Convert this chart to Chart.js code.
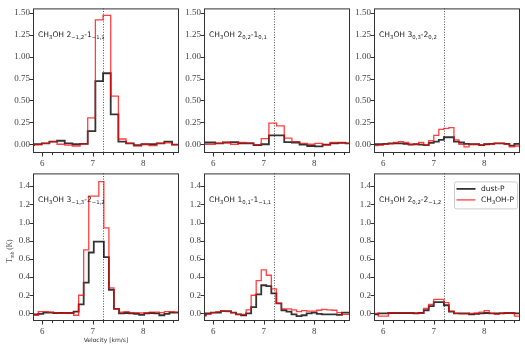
<!DOCTYPE html>
<html>
<head>
<meta charset="utf-8">
<script src="https://cdn.jsdelivr.net/npm/chart.js@4"></script>
<style>
  html, body { margin: 0; padding: 0; background: #fff; }
  #wrap { position: relative; width: 525px; height: 350px; overflow: hidden; }
  #wrap canvas { position: absolute; }
</style>
</head>
<body>
<div id="wrap"></div>
<script>
// channel velocities (km/s) and spectra (K) for each transition
const vel1 = [5.760, 5.912, 6.064, 6.216, 6.368, 6.520, 6.672, 6.824, 6.976, 7.128, 7.280, 7.432, 7.584, 7.736, 7.888, 8.040, 8.192, 8.344, 8.496, 8.648, 8.800];
const dust1 = [-0.01, 0.0, 0.01, 0.03, 0.04, 0.01, 0.0, 0.005, 0.15, 0.72, 0.81, 0.34, 0.03, 0.01, -0.01, 0.0, 0.0, 0.01, 0.03, -0.005, -0.005];
const meth1 = [-0.01, -0.005, 0.01, 0.03, 0.0, -0.01, -0.02, 0.005, 0.30, 1.42, 1.47, 0.55, 0.06, 0.01, -0.02, 0.0, -0.015, 0.01, 0.015, -0.005, -0.005];

const vel2 = [5.810, 5.962, 6.114, 6.266, 6.418, 6.570, 6.722, 6.874, 7.026, 7.178, 7.330, 7.482, 7.634, 7.786, 7.938, 8.090, 8.242, 8.394, 8.546, 8.698, 8.850];
const dust2 = [0.02, 0.02, 0.01, 0.02, 0.025, 0.01, 0.01, -0.01, 0.0, 0.10, 0.10, 0.025, 0.02, -0.005, -0.02, -0.025, -0.005, 0.01, 0.015, 0.01, 0.01];
const meth2 = [0.0, 0.0, 0.01, 0.02, 0.0, 0.02, 0.015, -0.005, 0.065, 0.24, 0.21, 0.07, 0.03, 0.01, 0.0, 0.01, -0.01, 0.02, 0.02, 0.01, 0.01];

const vel3 = [5.75, 5.85, 5.95, 6.05, 6.15, 6.25, 6.35, 6.45, 6.55, 6.65, 6.75, 6.85, 6.95, 7.05, 7.15, 7.25, 7.35, 7.45, 7.55, 7.65, 7.75, 7.85, 7.95, 8.05, 8.15, 8.25, 8.35, 8.45, 8.55, 8.65, 8.75];
const dust3 = [0.0, 0.0, 0.0, 0.005, 0.01, 0.01, 0.01, 0.005, -0.005, 0.0, -0.005, -0.01, 0.015, 0.03, 0.05, 0.08, 0.08, 0.03, 0.02, 0.005, 0.0, 0.0, -0.01, 0.0, 0.005, 0.01, 0.01, 0.005, -0.015, 0.005, 0.005];
const meth3 = [-0.015, -0.015, -0.01, 0.0, 0.005, 0.02, 0.03, 0.02, 0.0, 0.0, 0.02, -0.01, 0.04, 0.10, 0.17, 0.18, 0.19, 0.05, 0.0, -0.03, 0.0, 0.0, -0.01, 0.005, 0.0, 0.01, 0.01, 0.0, -0.03, -0.02, 0.005];

const vel4 = [5.77, 5.87, 5.97, 6.07, 6.17, 6.27, 6.37, 6.47, 6.57, 6.67, 6.77, 6.87, 6.97, 7.07, 7.17, 7.27, 7.37, 7.47, 7.57, 7.67, 7.77, 7.87, 7.97, 8.07, 8.17, 8.27, 8.37, 8.47, 8.57, 8.67, 8.77];
const dust4 = [-0.01, -0.01, -0.005, 0.01, 0.01, 0.005, 0.005, 0.005, 0.005, 0.02, 0.10, 0.34, 0.67, 0.79, 0.79, 0.62, 0.26, 0.05, 0.0, 0.005, 0.0, -0.005, -0.015, 0.0, 0.005, 0.0, -0.02, -0.005, 0.01, 0.01, 0.01];
const meth4 = [-0.02, -0.02, 0.02, 0.02, 0.015, 0.01, 0.0, 0.005, 0.005, -0.02, 0.20, 0.70, 1.29, 1.29, 1.45, 0.94, 0.28, 0.05, 0.015, 0.02, 0.01, 0.01, 0.005, 0.01, 0.015, 0.015, 0.01, 0.02, 0.02, 0.015, 0.01];

const vel5 = [5.7, 5.8, 5.9, 6.0, 6.1, 6.2, 6.3, 6.4, 6.5, 6.6, 6.7, 6.8, 6.9, 7.0, 7.1, 7.2, 7.3, 7.4, 7.5, 7.6, 7.7, 7.8, 7.9, 8.0, 8.1, 8.2, 8.3, 8.4, 8.5, 8.6, 8.7, 8.8];
const dust5 = [-0.02, -0.02, 0.0, 0.01, 0.01, 0.025, 0.025, 0.01, -0.01, -0.02, 0.0, 0.07, 0.21, 0.31, 0.30, 0.22, 0.11, 0.035, 0.02, -0.01, -0.03, -0.02, 0.0, 0.01, -0.005, -0.01, -0.01, -0.01, -0.015, 0.01, 0.01, 0.01];
const meth5 = [-0.025, -0.025, -0.01, 0.01, 0.02, 0.025, 0.02, 0.01, -0.01, -0.01, 0.04, 0.20, 0.36, 0.48, 0.42, 0.27, 0.11, 0.05, 0.05, 0.04, 0.02, 0.03, 0.025, 0.025, 0.035, 0.045, 0.04, 0.035, 0.01, -0.01, -0.01, -0.01];

const vel6 = [5.75, 5.85, 5.95, 6.05, 6.15, 6.25, 6.35, 6.45, 6.55, 6.65, 6.75, 6.85, 6.95, 7.05, 7.15, 7.25, 7.35, 7.45, 7.55, 7.65, 7.75, 7.85, 7.95, 8.05, 8.15, 8.25, 8.35, 8.45, 8.55, 8.65, 8.75];
const dust6 = [-0.02, -0.01, 0.0, 0.0, 0.005, 0.005, 0.005, 0.005, 0.005, 0.0, 0.005, 0.035, 0.08, 0.125, 0.125, 0.09, 0.02, 0.0, 0.0, 0.0, -0.01, -0.005, 0.0, 0.005, 0.0, 0.0, 0.0, 0.005, 0.005, 0.0, 0.0];
const meth6 = [0.01, 0.0, -0.03, -0.03, 0.01, 0.01, 0.01, 0.01, 0.01, 0.005, 0.0, 0.055, 0.10, 0.155, 0.155, 0.12, 0.025, 0.0, -0.005, -0.005, 0.0, 0.005, 0.015, 0.03, 0.0, -0.01, 0.005, 0.01, 0.005, -0.03, -0.03];

const labels = [
  'CH_{3}OH 2_{−1,2}-1_{−1,1}',
  'CH_{3}OH 2_{0,2}-1_{0,1}',
  'CH_{3}OH 3_{0,3}-2_{0,2}',
  'CH_{3}OH 3_{−1,3}-2_{−1,2}',
  'CH_{3}OH 1_{0,1}-1_{−1,1}',
  'CH_{3}OH 2_{0,2}-2_{−1,2}'
];
const legendLabels = ['dust-P', 'CH_{3}OH-P'];
const systemicV = 7.2;
const xLabel = 'Velocity [km/s]';
const yLabel = 'T_{mb} (K)';

const panels = [
  { vel: vel1, dust: dust1, meth: meth1, col: 0, row: 0 },
  { vel: vel2, dust: dust2, meth: meth2, col: 1, row: 0 },
  { vel: vel3, dust: dust3, meth: meth3, col: 2, row: 0 },
  { vel: vel4, dust: dust4, meth: meth4, col: 0, row: 1, titles: true },
  { vel: vel5, dust: dust5, meth: meth5, col: 1, row: 1 },
  { vel: vel6, dust: dust6, meth: meth6, col: 2, row: 1, legend: true }
];

const colLeft = [0, 171, 341];
const rowTop = [0, 165];
const rowH = [147, 150];
const rowY = [
  { min: -0.1, max: 1.55, step: 0.25, dec: 2 },
  { min: -0.083, max: 1.54, step: 0.2, dec: 1 }
];

const RED = 'rgba(255,0,0,0.75)';
const BLACK = 'rgba(0,0,0,0.8)';
const SANS = '"DejaVu Sans", sans-serif';
const SERIF = '"Liberation Serif", serif';

function drawRich(ctx, str, x, y, size, family, align) {
  const segs = str.split(/(_\{[^}]*\})/).filter(s => s.length);
  const items = segs.map(s => {
    const sub = s.startsWith('_{');
    const t = sub ? s.slice(2, -1) : s;
    const fs = sub ? size * 0.7 : size;
    ctx.font = fs + 'px ' + family;
    return { t, sub, fs, w: ctx.measureText(t).width };
  });
  const total = items.reduce((a, b) => a + b.w, 0);
  let cx = align === 'center' ? x - total / 2 : x;
  ctx.textAlign = 'left';
  ctx.textBaseline = 'middle';
  items.forEach(it => {
    ctx.font = it.fs + 'px ' + family;
    ctx.fillText(it.t, cx, it.sub ? y + size * 0.32 : y);
    cx += it.w;
  });
}

const decor = {
  id: 'decor',
  beforeDatasetsDraw(chart) {
    const { ctx, chartArea: a, scales: { x } } = chart;
    ctx.save();
    ctx.strokeStyle = '#555';
    ctx.lineWidth = 1;
    ctx.setLineDash([1, 1.6]);
    const vx = Math.round(x.getPixelForValue(systemicV)) + 0.5;
    ctx.beginPath();
    ctx.moveTo(vx, a.top);
    ctx.lineTo(vx, a.bottom);
    ctx.stroke();
    ctx.restore();
  },
  afterDraw(chart, args, opts) {
    const { ctx, chartArea: a, scales: { x, y } } = chart;
    ctx.save();
    ctx.strokeStyle = '#333';
    ctx.lineWidth = 1;
    ctx.strokeRect(a.left + 0.5, a.top + 0.5, a.width - 1, a.height - 1);
    ctx.beginPath();
    y.ticks.forEach(t => {
      const py = Math.round(y.getPixelForValue(t.value)) + 0.5;
      ctx.moveTo(a.left - 3.5, py);
      ctx.lineTo(a.left, py);
    });
    for (let v = 5.8; v < 8.75; v += 0.2) {
      const vv = Math.round(v * 10) / 10;
      if (vv < x.min || vv > x.max) continue;
      const px = Math.round(x.getPixelForValue(vv)) + 0.5;
      const major = Math.abs(vv - Math.round(vv)) < 1e-6;
      ctx.moveTo(px, a.bottom);
      ctx.lineTo(px, a.bottom + (major ? 3.5 : 2));
    }
    ctx.stroke();

    ctx.fillStyle = '#222';
    drawRich(ctx, opts.label, a.left + 5, a.top + 27, 7.6, SANS, 'left');

    if (opts.legend) {
      const bx = a.right - 66, by = a.top + 8, bw = 63, bh = 27;
      ctx.fillStyle = 'rgba(255,255,255,0.8)';
      ctx.strokeStyle = '#ccc';
      ctx.beginPath();
      ctx.roundRect(bx + 0.5, by + 0.5, bw, bh, 2);
      ctx.fill();
      ctx.stroke();
      ctx.lineWidth = 1.8;
      ctx.strokeStyle = BLACK;
      ctx.beginPath();
      ctx.moveTo(bx + 2.5, by + 7.5);
      ctx.lineTo(bx + 21.5, by + 7.5);
      ctx.stroke();
      ctx.lineWidth = 1.3;
      ctx.strokeStyle = RED;
      ctx.beginPath();
      ctx.moveTo(bx + 2.5, by + 18.5);
      ctx.lineTo(bx + 21.5, by + 18.5);
      ctx.stroke();
      ctx.fillStyle = '#222';
      drawRich(ctx, legendLabels[0], bx + 27, by + 7.5, 7.5, SANS, 'left');
      drawRich(ctx, legendLabels[1], bx + 27, by + 18.5, 7.5, SANS, 'left');
    }

    if (opts.titles) {
      ctx.fillStyle = '#333';
      drawRich(ctx, xLabel, (a.left + a.right) / 2, a.bottom + 19.5, 6, SANS, 'center');
      ctx.save();
      ctx.translate(10, (a.top + a.bottom) / 2 + 4);
      ctx.rotate(-Math.PI / 2);
      ctx.fillStyle = '#555';
      drawRich(ctx, yLabel, 0, 0, 7.5, SERIF, 'center');
      ctx.restore();
    }
    ctx.restore();
  }
};

const wrap = document.getElementById('wrap');

panels.forEach((p, i) => {
  const H = rowH[p.row];
  const yr = rowY[p.row];
  const padB = p.row === 1 ? 14 : 0;
  const cv = document.createElement('canvas');
  const W = 33 + 146 + 4;
  const CH = 6 + H + 18 + padB;
  cv.width = W;
  cv.height = CH;
  cv.style.width = W + 'px';
  cv.style.height = CH + 'px';
  cv.style.left = colLeft[p.col] + 'px';
  cv.style.top = rowTop[p.row] + 'px';
  wrap.appendChild(cv);

  new Chart(cv, {
    type: 'line',
    data: {
      datasets: [
        {
          label: 'CH3OH-P',
          data: p.vel.map((v, k) => ({ x: v, y: p.meth[k] })),
          borderColor: RED, borderWidth: 1.3, stepped: 'middle',
          pointRadius: 0, fill: false, clip: 0
        },
        {
          label: 'dust-P',
          data: p.vel.map((v, k) => ({ x: v, y: p.dust[k] })),
          borderColor: BLACK, borderWidth: 1.8, stepped: 'middle',
          pointRadius: 0, fill: false, clip: 0
        }
      ]
    },
    options: {
      responsive: false,
      animation: false,
      devicePixelRatio: 1,
      layout: { padding: { left: 0, top: 6, right: 4, bottom: padB } },
      plugins: {
        legend: { display: false },
        tooltip: { enabled: false },
        decor: { label: labels[i], legend: !!p.legend, titles: !!p.titles }
      },
      scales: {
        x: {
          type: 'linear', min: 5.815, max: 8.71,
          grid: { display: false, drawTicks: false },
          border: { display: false },
          ticks: {
            stepSize: 1, includeBounds: false, padding: 5,
            color: '#444', font: { family: SERIF, size: 9 },
            callback: v => String(v)
          },
          afterFit: s => { s.height = 18; }
        },
        y: {
          min: yr.min, max: yr.max,
          grid: { display: false, drawTicks: false },
          border: { display: false },
          ticks: {
            stepSize: yr.step, includeBounds: false, padding: 3,
            color: '#444', font: { family: SERIF, size: 9 },
            callback: v => v.toFixed(yr.dec)
          },
          afterFit: s => { s.width = 33; }
        }
      }
    },
    plugins: [decor]
  });
});
</script>
</body>
</html>
